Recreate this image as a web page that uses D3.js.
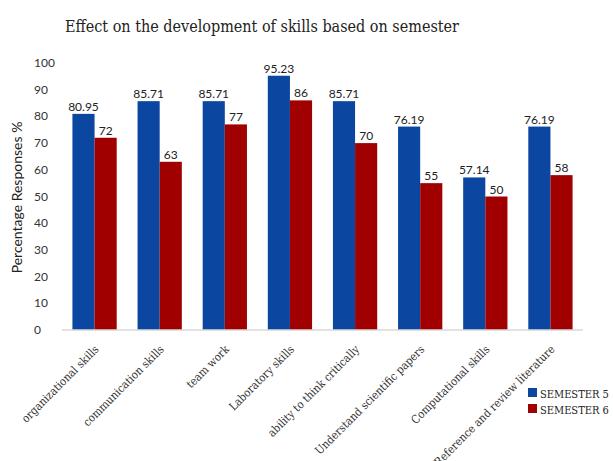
<!DOCTYPE html>
<html>
<head>
<meta charset="utf-8">
<script src="https://cdn.jsdelivr.net/npm/d3@7"></script>
<style>
  body { margin: 0; background: #fff; }
  .serif { font-family: "DejaVu Serif Condensed", "DejaVu Serif", serif; font-stretch: condensed; }
  .sans { font-family: Lato, "Liberation Sans", sans-serif; }
</style>
</head>
<body>
<div id="chart"></div>
<script>
var categories = ["organizational skills", "communication skills", "team work", "Laboratory skills",
    "ability to think critically", "Understand scientific papers", "Computational skills",
    "Reference and review literature"];
var semester5 = [80.95, 85.71, 85.71, 95.23, 85.71, 76.19, 57.14, 76.19];
var semester6 = [72, 63, 77, 86, 70, 55, 50, 58];
var seriesNames = ["SEMESTER 5", "SEMESTER 6"];
var yTicks = [0, 10, 20, 30, 40, 50, 60, 70, 80, 90, 100];

var colors = ["#0B47A1", "#A00000"];
var width = 613, height = 461;

var svg = d3.select("#chart").append("svg")
    .attr("width", width)
    .attr("height", height);

var x = d3.scaleBand().domain(categories).range([62, 583]).paddingInner(0.32).paddingOuter(0.16);
var x1 = d3.scaleBand().domain(seriesNames).range([0, x.bandwidth()]);
var y = d3.scaleLinear().domain([0, 100]).range([330, 63]);

// title
svg.append("text")
    .attr("class", "serif")
    .attr("x", 262).attr("y", 32)
    .attr("text-anchor", "middle")
    .style("font-size", "16px")
    .attr("fill", "#222")
    .text("Effect on the development of skills based on semester");

// y axis labels (no line)
svg.append("g").selectAll("text")
    .data(yTicks).enter().append("text")
    .attr("class", "sans")
    .attr("x", 34)
    .attr("y", function(d) { return y(d) + 4; })
    .style("font-size", "12px")
    .attr("fill", "#333")
    .text(function(d) { return d; });

svg.append("text")
    .attr("class", "sans")
    .attr("transform", "translate(22," + (y(50) + 1) + ") rotate(-90)")
    .attr("text-anchor", "middle")
    .style("font-size", "14px")
    .attr("fill", "#222")
    .text("Percentage Responses %");

var rows = categories.map(function(c, i) {
    return { cat: c, vals: [semester5[i], semester6[i]] };
});

var groups = svg.append("g").selectAll("g")
    .data(rows).enter().append("g")
    .attr("transform", function(d) { return "translate(" + x(d.cat) + ",0)"; });

groups.selectAll("rect")
    .data(function(d) { return d.vals.map(function(v, j) { return { name: seriesNames[j], v: v, j: j }; }); })
    .enter().append("rect")
    .attr("x", function(d) { return x1(d.name); })
    .attr("y", function(d) { return y(d.v); })
    .attr("width", x1.bandwidth())
    .attr("height", function(d) { return y(0) - y(d.v); })
    .attr("fill", function(d) { return colors[d.j]; });

groups.selectAll("text.val")
    .data(function(d) { return d.vals.map(function(v, j) { return { name: seriesNames[j], v: v, j: j }; }); })
    .enter().append("text")
    .attr("class", "val sans")
    .attr("x", function(d) { return x1(d.name) + x1.bandwidth() / 2; })
    .attr("y", function(d) { return y(d.v) - 3; })
    .attr("text-anchor", "middle")
    .style("font-size", "12px")
    .attr("fill", "#222")
    .text(function(d) { return d.v; });

// baseline
svg.append("line")
    .attr("x1", 62).attr("x2", 583)
    .attr("y1", y(0)).attr("y2", y(0))
    .attr("stroke", "#d9d9d9").attr("stroke-width", 1.5);

// category labels
svg.append("g").selectAll("text")
    .data(categories).enter().append("text")
    .attr("class", "serif")
    .attr("transform", function(d) {
        return "translate(" + (x(d) + x.bandwidth() / 2 + 5) + "," + 350 + ") rotate(-45)";
    })
    .attr("text-anchor", "end")
    .style("font-size", "11.3px")
    .attr("fill", "#333")
    .text(function(d) { return d; });

// legend
var legend = svg.append("g").selectAll("g")
    .data(seriesNames).enter().append("g")
    .attr("transform", function(d, i) { return "translate(528," + (388 + i * 16) + ")"; });

legend.append("rect")
    .attr("width", 9).attr("height", 9)
    .attr("fill", function(d, i) { return colors[i]; });

legend.append("text")
    .attr("class", "serif")
    .attr("x", 12).attr("y", 9.5)
    .style("font-size", "11px")
    .attr("fill", "#222")
    .text(function(d) { return d; });
</script>
</body>
</html>
